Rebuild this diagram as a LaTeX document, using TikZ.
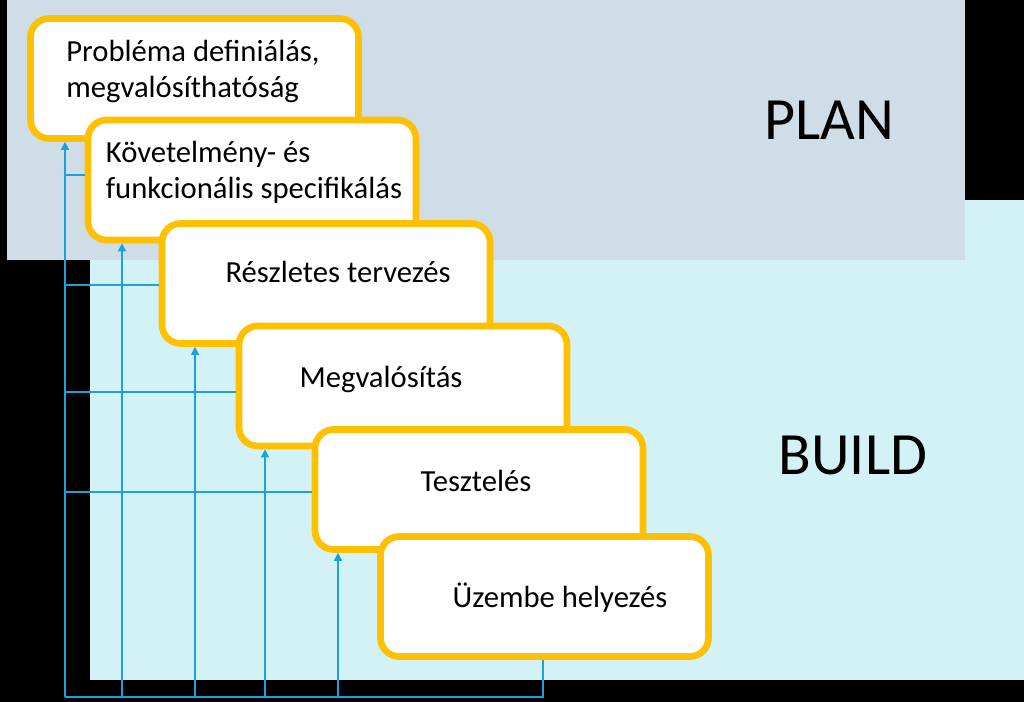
\documentclass[tikz,border=0pt]{standalone}
\usepackage{fontspec}
\setmainfont{Carlito}
\usetikzlibrary{arrows.meta}
\definecolor{planbg}{RGB}{206,221,230}
\definecolor{buildbg}{RGB}{210,242,246}
\definecolor{boxline}{RGB}{255,192,0}
\definecolor{link}{RGB}{30,160,220}
\tikzset{
  stepbox/.style={draw=boxline,line width=5pt,fill=white,rounded corners=14pt,
    minimum width=246pt,minimum height=90pt},
  steptext/.style={font=\fontsize{23}{27}\selectfont,align=left,inner sep=0pt},
  phase/.style={font=\fontsize{45}{50}\selectfont},
  link/.style={draw=link,line width=1.1pt},
  arr/.style={link,-{Triangle[width=6pt,length=6pt]}}
}
\begin{document}
\begin{tikzpicture}[x=0.75pt,y=-0.75pt]
%-------->background<--------------
\fill[black] (0,0) rectangle (1024,702);
\useasboundingbox (0,0) rectangle (1024,702);
\fill[buildbg] (90,200) rectangle (1024,680);
\fill[planbg] (7,0) rectangle (965,260);
\node[phase] (plan) at (829,120) {PLAN};
\node[phase] (build) at (853,455) {BUILD};
%-------->boxes<--------------
\node[stepbox] (b1) at (194.5,78.5) {};
\node[stepbox] (b2) at (252,180) {};
\node[stepbox] (b3) at (326,283.5) {};
\node[stepbox] (b4) at (403,386) {};
\node[stepbox] (b5) at (479,489.5) {};
\node[stepbox] (b6) at (544.5,596.5) {};
%-------->texts<--------------
\node[steptext] (t1) at (193,71) {Probléma definiálás,\\megvalósíthatóság};
\node[steptext] (t2) at (254,172) {Követelmény- és\\funkcionális specifikálás};
\node[steptext] (t3) at (338,272) {Részletes tervezés};
\node[steptext] (t4) at (381,379) {Megvalósítás};
\node[steptext] (t5) at (476,481) {Tesztelés};
\node[steptext] (t6) at (560,598) {Üzembe helyezés};
%-------->connectors<--------------
\coordinate (c1) at (65,697);
\coordinate (c2) at (122,697);
\coordinate (c3) at (195,697);
\coordinate (c4) at (265,697);
\coordinate (c5) at (338,697);
\coordinate (c6) at (543,697);
\draw[link] (c1) -- (c6) -- (b6.south -| c6);
\draw[arr] (c1) -- (b1.south -| c1);
\draw[arr] (c2) -- (b2.south -| c2);
\draw[arr] (c3) -- (b3.south -| c3);
\draw[arr] (c4) -- (b4.south -| c4);
\draw[arr] (c5) -- (b5.south -| c5);
\coordinate (h2) at (65,175);
\coordinate (h3) at (65,285);
\coordinate (h4) at (65,392);
\coordinate (h5) at (65,492);
\draw[link] (h2) -- (h2 -| b2.west);
\draw[link] (h3) -- (h3 -| b3.west);
\draw[link] (h4) -- (h4 -| b4.west);
\draw[link] (h5) -- (h5 -| b5.west);
\end{tikzpicture}
\end{document}
